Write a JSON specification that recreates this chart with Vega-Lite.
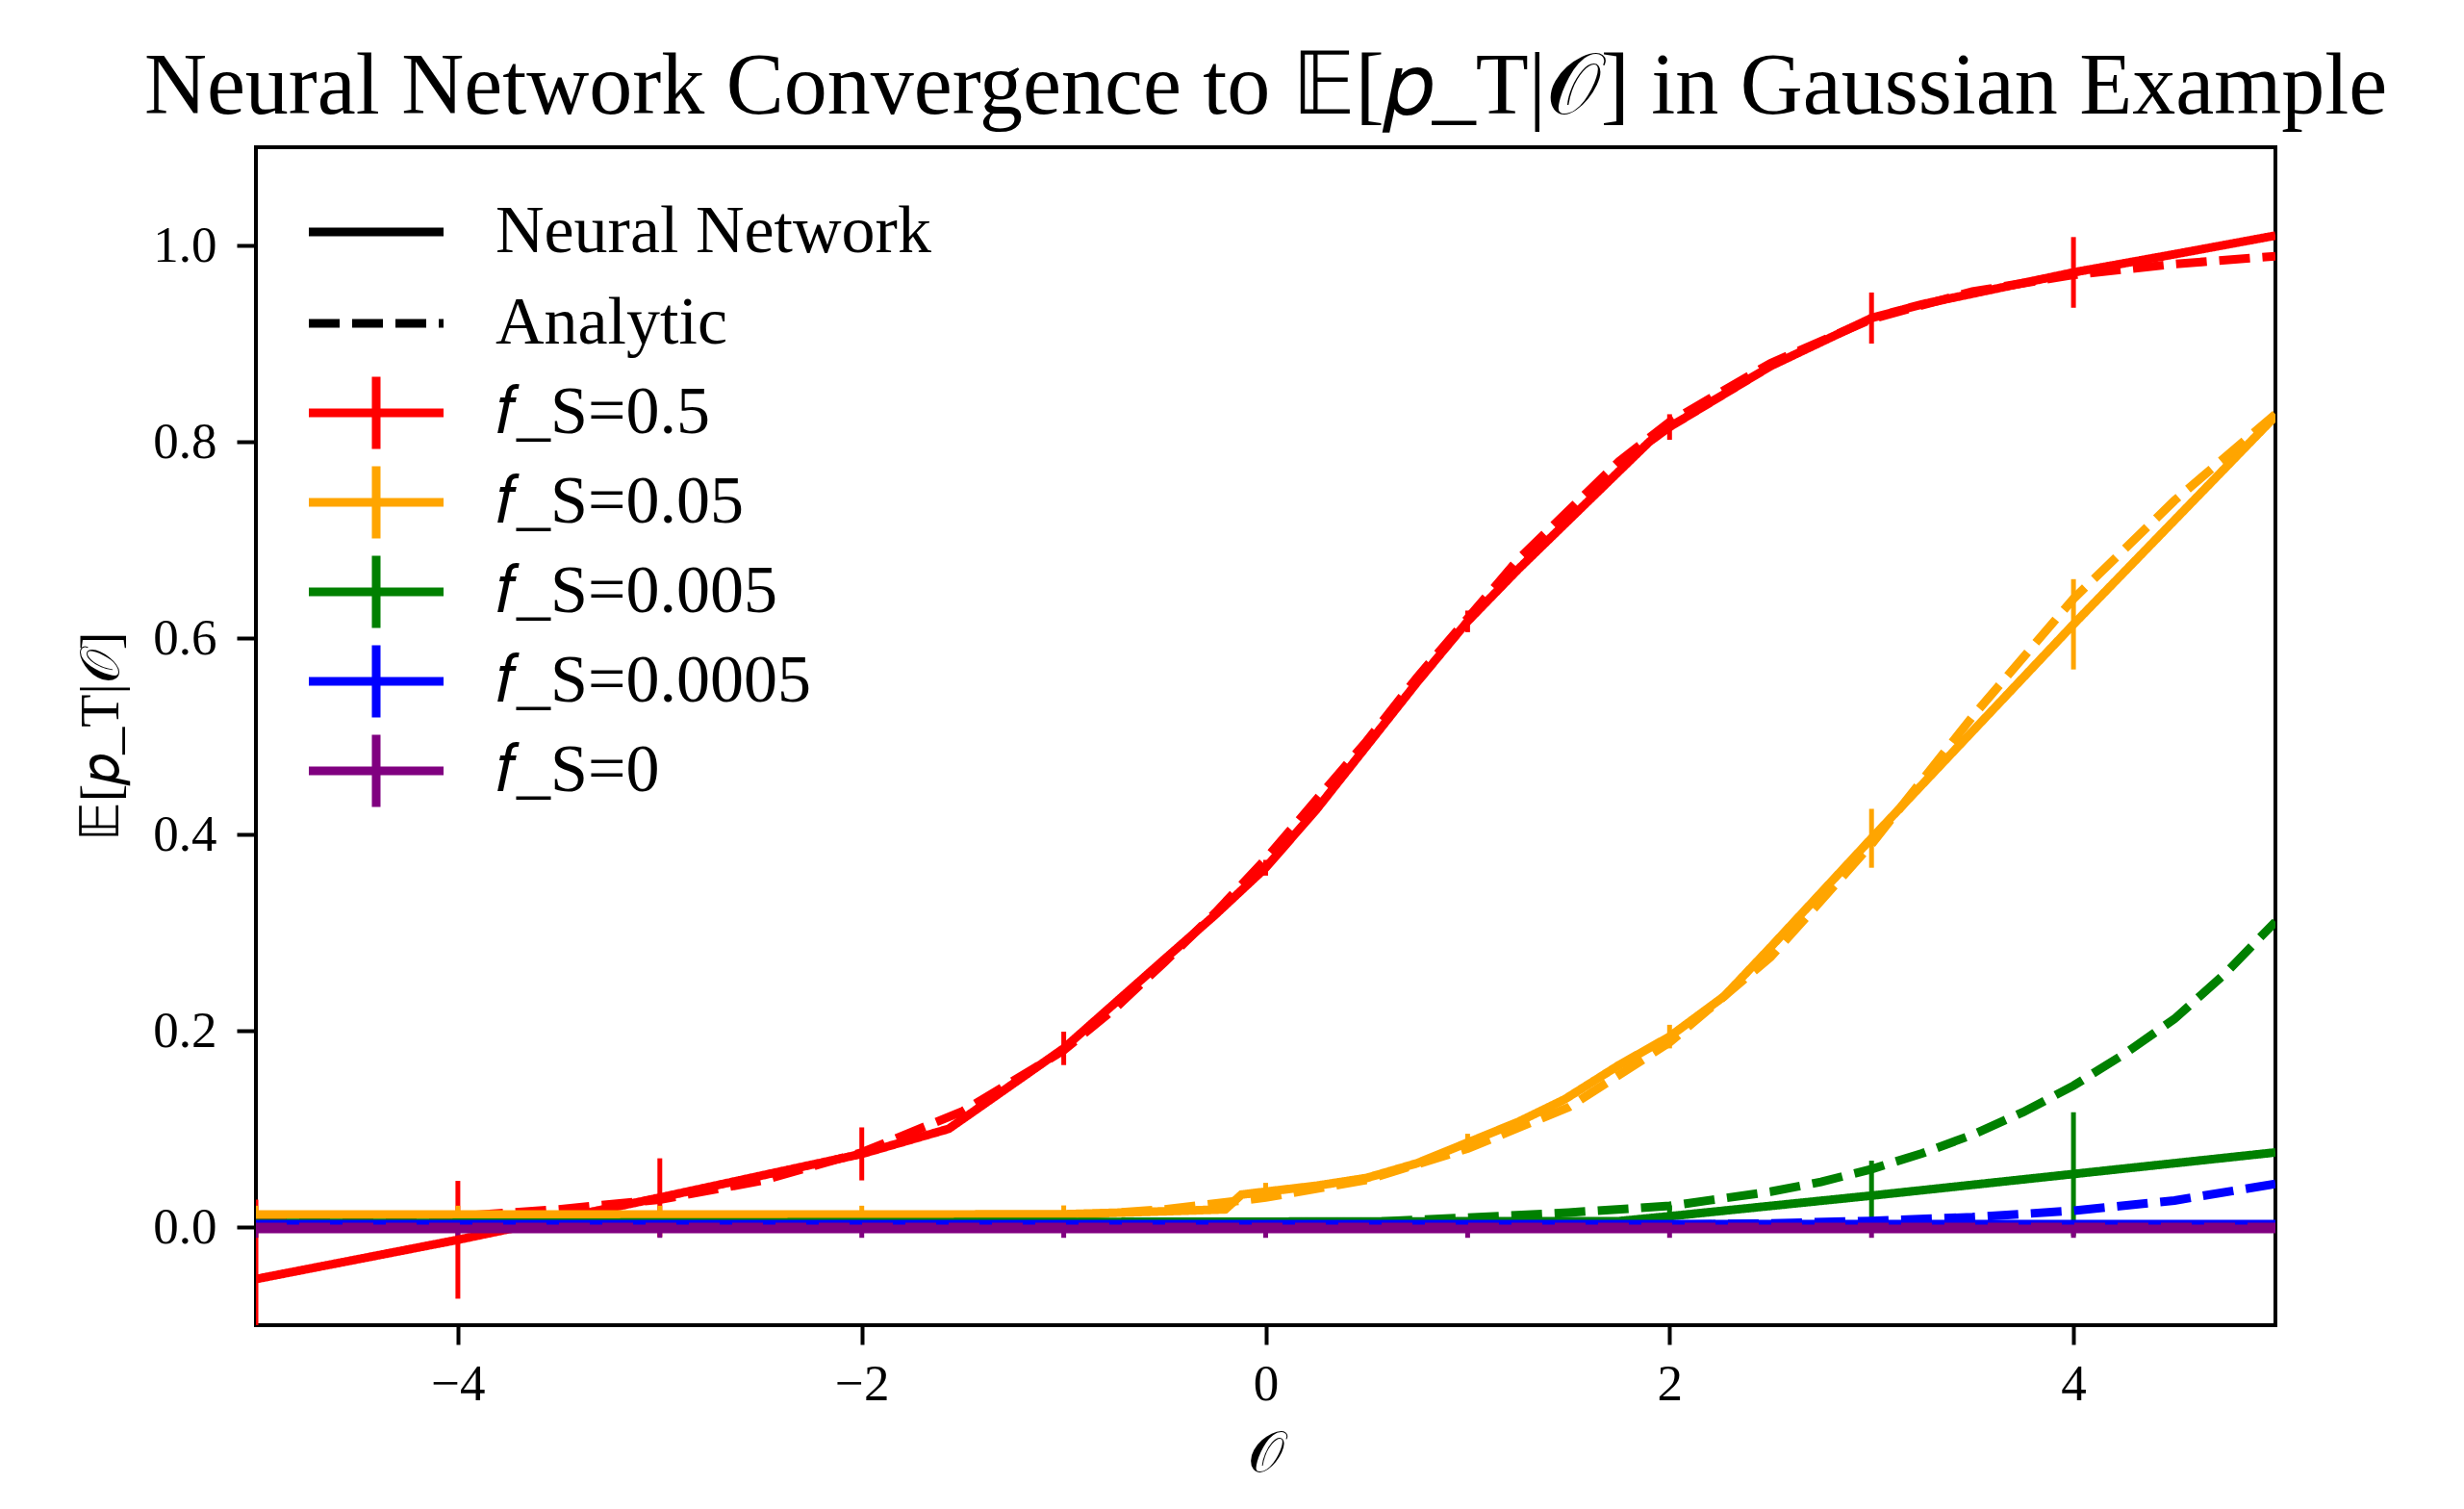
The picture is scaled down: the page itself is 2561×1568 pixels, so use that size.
{
"$schema": "https://vega.github.io/schema/vega-lite/v6.json",
"autosize": {"type": "none"},
"padding": {"left": 266, "top": 153, "right": 196, "bottom": 191},
"width": 2099,
"height": 1224,
"background": "white",
"title": {"text": "Neural Network Convergence to 𝔼[𝑝_T|𝒪] in Gaussian Example", "font": "Liberation Serif", "fontSize": 90, "fontWeight": "normal", "color": "black", "anchor": "middle", "frame": "group", "baseline": "alphabetic", "offset": 15, "dy": 70},
"config": {
  "view": {"stroke": "black", "strokeWidth": 4},
  "axis": {"domain": false, "grid": false, "tickColor": "black", "tickWidth": 4, "tickSize": 20, "labelFont": "Liberation Serif", "labelFontSize": 53, "labelColor": "black", "titleFont": "Liberation Serif", "titleFontWeight": "normal", "titleColor": "black"},
  "legend": {"labelFont": "Liberation Serif", "labelFontSize": 70, "labelColor": "black", "labelLimit": 0, "padding": 0, "symbolBaseStrokeColor": "black"}
},
"datasets": {
"err": [
{"x":-5,"lo":-0.134,"hi":0.028,"s":"0.5"},{"x":-4,"lo":-0.073,"hi":0.047,"s":"0.5"},{"x":-3,"lo":-0.010,"hi":0.070,"s":"0.5"},{"x":-2,"lo":0.0475,"hi":0.1015,"s":"0.5"},{"x":-1,"lo":0.165,"hi":0.199,"s":"0.5"},{"x":0,"lo":0.358,"hi":0.374,"s":"0.5"},{"x":1,"lo":0.606,"hi":0.628,"s":"0.5"},{"x":2,"lo":0.802,"hi":0.828,"s":"0.5"},{"x":3,"lo":0.900,"hi":0.952,"s":"0.5"},{"x":4,"lo":0.9365,"hi":1.0085,"s":"0.5"},
{"x":-5,"lo":0.0037,"hi":0.0217,"s":"0.05"},{"x":-4,"lo":0.0037,"hi":0.0217,"s":"0.05"},{"x":-3,"lo":0.0037,"hi":0.0217,"s":"0.05"},{"x":-2,"lo":0.0037,"hi":0.0217,"s":"0.05"},{"x":-1,"lo":0.004,"hi":0.022,"s":"0.05"},{"x":0,"lo":0.027,"hi":0.045,"s":"0.05"},{"x":1,"lo":0.077,"hi":0.095,"s":"0.05"},{"x":2,"lo":0.182,"hi":0.206,"s":"0.05"},{"x":3,"lo":0.366,"hi":0.426,"s":"0.05"},{"x":4,"lo":0.568,"hi":0.660,"s":"0.05"},
{"x":-5,"lo":0.0,"hi":0.008,"s":"0.005"},{"x":-4,"lo":0.0,"hi":0.008,"s":"0.005"},{"x":-3,"lo":0.0,"hi":0.008,"s":"0.005"},{"x":-2,"lo":0.0,"hi":0.008,"s":"0.005"},{"x":-1,"lo":0.0,"hi":0.008,"s":"0.005"},{"x":0,"lo":0.0,"hi":0.008,"s":"0.005"},{"x":1,"lo":0.0,"hi":0.009,"s":"0.005"},{"x":2,"lo":0.0,"hi":0.022,"s":"0.005"},{"x":3,"lo":-0.003,"hi":0.0676,"s":"0.005"},{"x":4,"lo":-0.009,"hi":0.117,"s":"0.005"},
{"x":-5,"lo":0.0,"hi":0.006,"s":"0.0005"},{"x":-4,"lo":0.0,"hi":0.006,"s":"0.0005"},{"x":-3,"lo":0.0,"hi":0.006,"s":"0.0005"},{"x":-2,"lo":0.0,"hi":0.006,"s":"0.0005"},{"x":-1,"lo":0.0,"hi":0.006,"s":"0.0005"},{"x":0,"lo":0.0,"hi":0.006,"s":"0.0005"},{"x":1,"lo":0.0,"hi":0.006,"s":"0.0005"},{"x":2,"lo":0.0,"hi":0.006,"s":"0.0005"},{"x":3,"lo":0.0,"hi":0.006,"s":"0.0005"},{"x":4,"lo":0.0,"hi":0.006,"s":"0.0005"},
{"x":-5,"lo":-0.011,"hi":0.007,"s":"0"},{"x":-4,"lo":-0.011,"hi":0.007,"s":"0"},{"x":-3,"lo":-0.011,"hi":0.007,"s":"0"},{"x":-2,"lo":-0.011,"hi":0.007,"s":"0"},{"x":-1,"lo":-0.011,"hi":0.007,"s":"0"},{"x":0,"lo":-0.011,"hi":0.007,"s":"0"},{"x":1,"lo":-0.011,"hi":0.007,"s":"0"},{"x":2,"lo":-0.011,"hi":0.007,"s":"0"},{"x":3,"lo":-0.011,"hi":0.007,"s":"0"},{"x":4,"lo":-0.011,"hi":0.007,"s":"0"}
],
"lines": [
{"x":-5,"y":-0.053,"s":"0.5","t":"Neural Network"},{"x":-4,"y":-0.013,"s":"0.5","t":"Neural Network"},{"x":-3,"y":0.030,"s":"0.5","t":"Neural Network"},{"x":-2,"y":0.0745,"s":"0.5","t":"Neural Network"},{"x":-1.57,"y":0.100,"s":"0.5","t":"Neural Network"},{"x":-1.5,"y":0.11,"s":"0.5","t":"Neural Network"},{"x":-1,"y":0.182,"s":"0.5","t":"Neural Network"},{"x":-0.5,"y":0.273,"s":"0.5","t":"Neural Network"},{"x":-0.25,"y":0.318,"s":"0.5","t":"Neural Network"},{"x":0,"y":0.366,"s":"0.5","t":"Neural Network"},{"x":0.25,"y":0.425,"s":"0.5","t":"Neural Network"},{"x":0.5,"y":0.49,"s":"0.5","t":"Neural Network"},{"x":0.75,"y":0.555,"s":"0.5","t":"Neural Network"},{"x":1,"y":0.617,"s":"0.5","t":"Neural Network"},{"x":1.25,"y":0.67,"s":"0.5","t":"Neural Network"},{"x":1.5,"y":0.72,"s":"0.5","t":"Neural Network"},{"x":1.75,"y":0.77,"s":"0.5","t":"Neural Network"},{"x":1.9,"y":0.80,"s":"0.5","t":"Neural Network"},{"x":2,"y":0.815,"s":"0.5","t":"Neural Network"},{"x":2.5,"y":0.877,"s":"0.5","t":"Neural Network"},{"x":3,"y":0.926,"s":"0.5","t":"Neural Network"},{"x":3.25,"y":0.94,"s":"0.5","t":"Neural Network"},{"x":4,"y":0.9725,"s":"0.5","t":"Neural Network"},{"x":4.5,"y":0.991,"s":"0.5","t":"Neural Network"},{"x":5,"y":1.01,"s":"0.5","t":"Neural Network"},
{"x":-5,"y":0.006,"s":"0.5","t":"Analytic"},{"x":-4.5,"y":0.008,"s":"0.5","t":"Analytic"},{"x":-4,"y":0.011,"s":"0.5","t":"Analytic"},{"x":-3.5,"y":0.018,"s":"0.5","t":"Analytic"},{"x":-3,"y":0.028,"s":"0.5","t":"Analytic"},{"x":-2.5,"y":0.047,"s":"0.5","t":"Analytic"},{"x":-2,"y":0.076,"s":"0.5","t":"Analytic"},{"x":-1.5,"y":0.118,"s":"0.5","t":"Analytic"},{"x":-1,"y":0.18,"s":"0.5","t":"Analytic"},{"x":-0.75,"y":0.222,"s":"0.5","t":"Analytic"},{"x":-0.5,"y":0.27,"s":"0.5","t":"Analytic"},{"x":-0.25,"y":0.32,"s":"0.5","t":"Analytic"},{"x":0,"y":0.375,"s":"0.5","t":"Analytic"},{"x":0.25,"y":0.435,"s":"0.5","t":"Analytic"},{"x":0.5,"y":0.495,"s":"0.5","t":"Analytic"},{"x":0.75,"y":0.56,"s":"0.5","t":"Analytic"},{"x":1,"y":0.62,"s":"0.5","t":"Analytic"},{"x":1.25,"y":0.68,"s":"0.5","t":"Analytic"},{"x":1.5,"y":0.73,"s":"0.5","t":"Analytic"},{"x":1.75,"y":0.78,"s":"0.5","t":"Analytic"},{"x":2,"y":0.82,"s":"0.5","t":"Analytic"},{"x":2.5,"y":0.88,"s":"0.5","t":"Analytic"},{"x":3,"y":0.925,"s":"0.5","t":"Analytic"},{"x":3.5,"y":0.953,"s":"0.5","t":"Analytic"},{"x":4,"y":0.97,"s":"0.5","t":"Analytic"},{"x":4.5,"y":0.981,"s":"0.5","t":"Analytic"},{"x":5,"y":0.989,"s":"0.5","t":"Analytic"},
{"x":-5,"y":0.0127,"s":"0.05","t":"Neural Network"},{"x":-2,"y":0.0127,"s":"0.05","t":"Neural Network"},{"x":-1,"y":0.013,"s":"0.05","t":"Neural Network"},{"x":-0.5,"y":0.016,"s":"0.05","t":"Neural Network"},{"x":-0.2,"y":0.018,"s":"0.05","t":"Neural Network"},{"x":-0.12,"y":0.033,"s":"0.05","t":"Neural Network"},{"x":0,"y":0.036,"s":"0.05","t":"Neural Network"},{"x":0.25,"y":0.042,"s":"0.05","t":"Neural Network"},{"x":0.5,"y":0.05,"s":"0.05","t":"Neural Network"},{"x":0.75,"y":0.065,"s":"0.05","t":"Neural Network"},{"x":1,"y":0.086,"s":"0.05","t":"Neural Network"},{"x":1.25,"y":0.107,"s":"0.05","t":"Neural Network"},{"x":1.48,"y":0.13,"s":"0.05","t":"Neural Network"},{"x":1.75,"y":0.165,"s":"0.05","t":"Neural Network"},{"x":2,"y":0.194,"s":"0.05","t":"Neural Network"},{"x":2.27,"y":0.235,"s":"0.05","t":"Neural Network"},{"x":2.5,"y":0.285,"s":"0.05","t":"Neural Network"},{"x":3,"y":0.396,"s":"0.05","t":"Neural Network"},{"x":3.5,"y":0.505,"s":"0.05","t":"Neural Network"},{"x":4,"y":0.614,"s":"0.05","t":"Neural Network"},{"x":4.5,"y":0.72,"s":"0.05","t":"Neural Network"},{"x":5,"y":0.826,"s":"0.05","t":"Neural Network"},
{"x":-5,"y":0.0006,"s":"0.05","t":"Analytic"},{"x":-4,"y":0.001,"s":"0.05","t":"Analytic"},{"x":-3,"y":0.002,"s":"0.05","t":"Analytic"},{"x":-2,"y":0.005,"s":"0.05","t":"Analytic"},{"x":-1.5,"y":0.007,"s":"0.05","t":"Analytic"},{"x":-1,"y":0.011,"s":"0.05","t":"Analytic"},{"x":-0.5,"y":0.018,"s":"0.05","t":"Analytic"},{"x":0,"y":0.03,"s":"0.05","t":"Analytic"},{"x":0.5,"y":0.048,"s":"0.05","t":"Analytic"},{"x":1,"y":0.08,"s":"0.05","t":"Analytic"},{"x":1.5,"y":0.122,"s":"0.05","t":"Analytic"},{"x":2,"y":0.188,"s":"0.05","t":"Analytic"},{"x":2.5,"y":0.275,"s":"0.05","t":"Analytic"},{"x":3,"y":0.39,"s":"0.05","t":"Analytic"},{"x":3.5,"y":0.52,"s":"0.05","t":"Analytic"},{"x":4,"y":0.64,"s":"0.05","t":"Analytic"},{"x":4.5,"y":0.74,"s":"0.05","t":"Analytic"},{"x":5,"y":0.828,"s":"0.05","t":"Analytic"},
{"x":-5,"y":0.004,"s":"0.005","t":"Neural Network"},{"x":1.75,"y":0.006,"s":"0.005","t":"Neural Network"},{"x":2,"y":0.011,"s":"0.005","t":"Neural Network"},{"x":3,"y":0.032,"s":"0.005","t":"Neural Network"},{"x":4,"y":0.054,"s":"0.005","t":"Neural Network"},{"x":5,"y":0.076,"s":"0.005","t":"Neural Network"},
{"x":-5,"y":0.0001,"s":"0.005","t":"Analytic"},{"x":-4,"y":0.0002,"s":"0.005","t":"Analytic"},{"x":-3,"y":0.0003,"s":"0.005","t":"Analytic"},{"x":-2,"y":0.0006,"s":"0.005","t":"Analytic"},{"x":-1,"y":0.0012,"s":"0.005","t":"Analytic"},{"x":0,"y":0.003,"s":"0.005","t":"Analytic"},{"x":0.5,"y":0.005,"s":"0.005","t":"Analytic"},{"x":1,"y":0.0095,"s":"0.005","t":"Analytic"},{"x":1.5,"y":0.0147,"s":"0.005","t":"Analytic"},{"x":2,"y":0.0215,"s":"0.005","t":"Analytic"},{"x":2.5,"y":0.036,"s":"0.005","t":"Analytic"},{"x":2.75,"y":0.046,"s":"0.005","t":"Analytic"},{"x":3,"y":0.059,"s":"0.005","t":"Analytic"},{"x":3.25,"y":0.075,"s":"0.005","t":"Analytic"},{"x":3.5,"y":0.094,"s":"0.005","t":"Analytic"},{"x":3.75,"y":0.117,"s":"0.005","t":"Analytic"},{"x":4,"y":0.144,"s":"0.005","t":"Analytic"},{"x":4.25,"y":0.176,"s":"0.005","t":"Analytic"},{"x":4.5,"y":0.212,"s":"0.005","t":"Analytic"},{"x":4.75,"y":0.258,"s":"0.005","t":"Analytic"},{"x":5,"y":0.311,"s":"0.005","t":"Analytic"},
{"x":-5,"y":0.003,"s":"0.0005","t":"Neural Network"},{"x":5,"y":0.003,"s":"0.0005","t":"Neural Network"},
{"x":-5,"y":0.0,"s":"0.0005","t":"Analytic"},{"x":0,"y":0.0003,"s":"0.0005","t":"Analytic"},{"x":1,"y":0.0009,"s":"0.0005","t":"Analytic"},{"x":2,"y":0.0022,"s":"0.0005","t":"Analytic"},{"x":2.5,"y":0.0037,"s":"0.0005","t":"Analytic"},{"x":3,"y":0.0062,"s":"0.0005","t":"Analytic"},{"x":3.5,"y":0.0101,"s":"0.0005","t":"Analytic"},{"x":4,"y":0.0166,"s":"0.0005","t":"Analytic"},{"x":4.5,"y":0.027,"s":"0.0005","t":"Analytic"},{"x":5,"y":0.044,"s":"0.0005","t":"Analytic"},
{"x":-5,"y":-0.002,"s":"0","t":"Neural Network"},{"x":5,"y":-0.002,"s":"0","t":"Neural Network"},
{"x":-5,"y":0.0,"s":"0","t":"Analytic"},{"x":5,"y":0.0,"s":"0","t":"Analytic"}
]
},
"layer": [
{
 "data": {"name": "err"},
 "mark": {"type": "rule", "strokeWidth": 5, "clip": true},
 "encoding": {
  "x": {"field": "x", "type": "quantitative", "scale": {"domain": [-5, 5], "nice": false, "zero": false},
        "axis": {"values": [-4, -2, 0, 2, 4], "format": "d", "labelPadding": 15, "title": "𝒪", "titleFontSize": 60, "titleY": 151, "titleBaseline": "alphabetic"}},
  "y": {"field": "lo", "type": "quantitative", "scale": {"domain": [-0.1, 1.1], "nice": false, "zero": false},
        "axis": {"values": [0, 0.2, 0.4, 0.6, 0.8, 1.0], "format": ".1f", "labelPadding": 21, "title": "𝔼[𝑝_T|𝒪]", "titleFontSize": 56, "titleX": -161, "titleY": 612, "titleAngle": -90, "titleAlign": "center", "titleBaseline": "middle"}},
  "y2": {"field": "hi"},
  "color": {"field": "s", "type": "nominal",
            "scale": {"domain": ["0.5", "0.05", "0.005", "0.0005", "0"], "range": ["#ff0000", "#ffa500", "#008000", "#0000ff", "#800080"]},
            "legend": {"title": null, "orient": "none", "legendX": 90, "legendY": 241, "symbolType": "M-2.5,0H2.5M0,-1.34V1.34", "symbolSize": 3136, "symbolStrokeWidth": 9, "labelExpr": "'𝑓_S=' + datum.label", "labelOffset": 89, "rowPadding": -19}}
 }
},
{
 "data": {"name": "lines"},
 "mark": {"type": "line", "strokeWidth": 9, "clip": true, "strokeCap": "butt"},
 "encoding": {
  "x": {"field": "x", "type": "quantitative"},
  "y": {"field": "y", "type": "quantitative"},
  "color": {"field": "s", "type": "nominal",
            "legend": {"title": null, "orient": "none", "legendX": 90, "legendY": 241, "symbolType": "M-2.5,0H2.5M0,-1.34V1.34", "symbolSize": 3136, "symbolStrokeWidth": 9, "labelExpr": "'𝑓_S=' + datum.label", "labelOffset": 89, "rowPadding": -19}},
  "strokeDash": {"field": "t", "type": "nominal",
            "scale": {"domain": ["Neural Network", "Analytic"], "range": [[1, 0], [32, 13]]},
            "legend": {"title": null, "orient": "none", "legendX": 90, "legendY": 53, "symbolType": "M-2.5,0H2.5", "symbolSize": 3136, "symbolStrokeWidth": 9, "symbolStrokeColor": "black", "labelOffset": 89, "rowPadding": 25}}
 }
}
]
}
